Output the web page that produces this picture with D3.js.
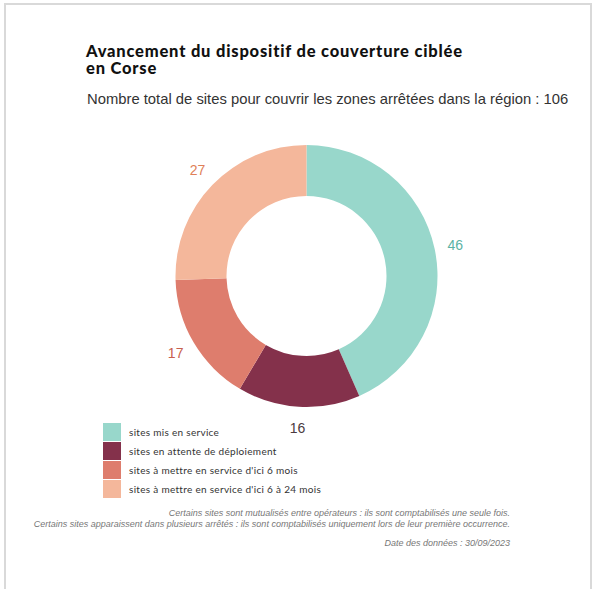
<!DOCTYPE html>
<html>
<head>
<meta charset="utf-8">
<script src="https://cdn.jsdelivr.net/npm/d3@7"></script>
<style>
  body { margin: 0; background: #fff; }
</style>
</head>
<body>
<script>
// data
var categories = [
  "sites mis en service",
  "sites en attente de déploiement",
  "sites à mettre en service d'ici 6 mois",
  "sites à mettre en service d'ici 6 à 24 mois"
];
var values = [46, 16, 17, 27];
var sliceColors = ["#98d7cb", "#84314b", "#de7d6d", "#f4b79b"];
var labelColors = ["#5cb2a4", "#4b3a40", "#c7604e", "#e08058"];

var width = 594, height = 589;
var cx = 306.5, cy = 276;
var outerR = 131, innerR = 80;

var svg = d3.select("body").append("svg")
  .attr("width", width)
  .attr("height", height);

// frame
svg.append("path")
  .attr("d", "M5,600 L5,4 L591,4 L591,600")
  .attr("fill", "none")
  .attr("stroke", "#d9d9d9")
  .attr("stroke-width", 2);

// titles
var title = svg.append("text")
  .attr("x", 86)
  .attr("font-family", "Lato, sans-serif")
  .attr("font-weight", "900")
  .attr("font-size", "16.5px")
  .attr("letter-spacing", "0.8px")
  .attr("fill", "#111");
title.append("tspan").attr("x", 86).attr("y", 57).text("Avancement du dispositif de couverture ciblée");
title.append("tspan").attr("x", 86).attr("y", 74).text("en Corse");

svg.append("text")
  .attr("x", 87)
  .attr("y", 104)
  .attr("font-family", "Liberation Sans, Arial, sans-serif")
  .attr("font-size", "14.8px")
  .attr("fill", "#333")
  .text("Nombre total de sites pour couvrir les zones arrêtées dans la région : 106");

// donut
var pie = d3.pie().sort(null).value(function (d) { return d; });
var arc = d3.arc().innerRadius(innerR).outerRadius(outerR);
var labelArc = d3.arc().innerRadius(152).outerRadius(152);

var g = svg.append("g").attr("transform", "translate(" + cx + "," + cy + ")");
var arcs = pie(values);

g.selectAll("path.slice")
  .data(arcs)
  .enter()
  .append("path")
  .attr("class", "slice")
  .attr("d", arc)
  .attr("fill", function (d, i) { return sliceColors[i]; });

g.selectAll("text.lbl")
  .data(arcs)
  .enter()
  .append("text")
  .attr("class", "lbl")
  .attr("transform", function (d) { return "translate(" + labelArc.centroid(d) + ")"; })
  .attr("text-anchor", "middle")
  .attr("dominant-baseline", "central")
  .attr("font-family", "Liberation Sans, Arial, sans-serif")
  .attr("font-size", "14px")
  .attr("fill", function (d, i) { return labelColors[i]; })
  .text(function (d) { return d.data; });

// legend
var legend = svg.append("g").attr("transform", "translate(103,423)");
var rows = legend.selectAll("g")
  .data(categories)
  .enter()
  .append("g")
  .attr("transform", function (d, i) { return "translate(0," + (i * 19) + ")"; });

rows.append("rect")
  .attr("width", 18)
  .attr("height", 18)
  .attr("fill", function (d, i) { return sliceColors[i]; });

rows.append("text")
  .attr("x", 26)
  .attr("y", 12.5)
  .attr("font-family", "Lato, sans-serif")
  .attr("font-size", "10px")
  .attr("letter-spacing", "0.3px")
  .attr("fill", "#333")
  .text(function (d) { return d; });

// footnotes
var notes = [
  "Certains sites sont mutualisés entre opérateurs : ils sont comptabilisés une seule fois.",
  "Certains sites apparaissent dans plusieurs arrêtés : ils sont comptabilisés uniquement lors de leur première occurrence."
];
svg.selectAll("text.note")
  .data(notes)
  .enter()
  .append("text")
  .attr("class", "note")
  .attr("x", 510)
  .attr("y", function (d, i) { return 516 + i * 11; })
  .attr("text-anchor", "end")
  .attr("font-family", "Liberation Sans, Arial, sans-serif")
  .attr("font-style", "italic")
  .attr("font-size", "9px")
  .attr("fill", "#777")
  .text(function (d) { return d; });

svg.append("text")
  .attr("x", 510)
  .attr("y", 546)
  .attr("text-anchor", "end")
  .attr("font-family", "Liberation Sans, Arial, sans-serif")
  .attr("font-style", "italic")
  .attr("font-size", "9px")
  .attr("fill", "#777")
  .text("Date des données : 30/09/2023");
</script>
</body>
</html>
